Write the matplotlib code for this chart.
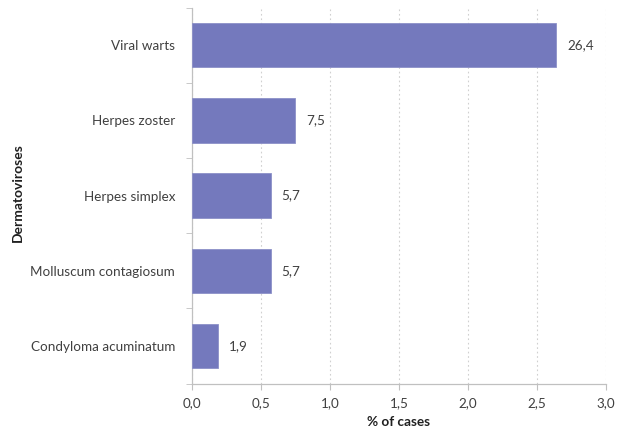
import numpy as np
import matplotlib.pyplot as plt
from matplotlib.ticker import FuncFormatter

plt.rcParams['font.family'] = ['Lato', 'DejaVu Sans']

diseases = ["Viral warts", "Herpes zoster", "Herpes simplex",
            "Molluscum contagiosum", "Condyloma acuminatum"]
percent = [26.4, 7.5, 5.7, 5.7, 1.9]
value_labels = ["26,4", "7,5", "5,7", "5,7", "1,9"]

bar_color = "#7479bd"
text_color = "#404040"

fig = plt.figure(figsize=(6.27, 4.30), dpi=100)
ax = fig.add_axes([0.306, 0.108, 0.6605, 0.8745])

ypos = np.arange(len(diseases))[::-1]
widths = np.array(percent) / 10
ax.barh(ypos, widths, height=0.59, color=bar_color, edgecolor="#8c90c8", linewidth=0.6, zorder=3)

for y, w, lab in zip(ypos, widths, value_labels):
    ax.annotate(lab, (w, y), xytext=(8, 0), textcoords="offset points",
                va="center", ha="left", fontsize=9.7, color=text_color)

ax.set_xlim(0, 3.0)
ax.set_ylim(-0.5, len(diseases) - 0.5)
ax.set_xticks(np.arange(0, 3.01, 0.5))
ax.xaxis.set_major_formatter(FuncFormatter(lambda v, p: f"{v:.1f}".replace(".", ",")))
ax.set_yticks(ypos)
ax.set_yticklabels(diseases)
ax.set_yticks(np.arange(-0.5, len(diseases), 1), minor=True)

ax.grid(axis="x", linestyle=(0, (1.5, 2.5)), color="#d0d0d0", linewidth=0.8, zorder=0)
for s in ["top", "right"]:
    ax.spines[s].set_visible(False)
for s in ["left", "bottom"]:
    ax.spines[s].set_color("#c0c0c0")
    ax.spines[s].set_linewidth(0.9)

ax.tick_params(axis="y", which="major", length=0, pad=12, labelsize=9.7, labelcolor=text_color)
ax.tick_params(axis="y", which="minor", length=4, color="#c0c0c0", direction="out")
ax.tick_params(axis="x", length=4, color="#c0c0c0", labelsize=9.7, labelcolor=text_color, pad=6)

ax.set_xlabel("% of cases", fontsize=9.8, fontweight="bold", color="#202020", labelpad=5)
fig.text(0.029, 0.553, "Dermatoviroses", rotation=90, ha="center", va="center",
         fontsize=10, fontweight="bold", color="#202020")

plt.savefig("out.png", dpi=100)
plt.close()
